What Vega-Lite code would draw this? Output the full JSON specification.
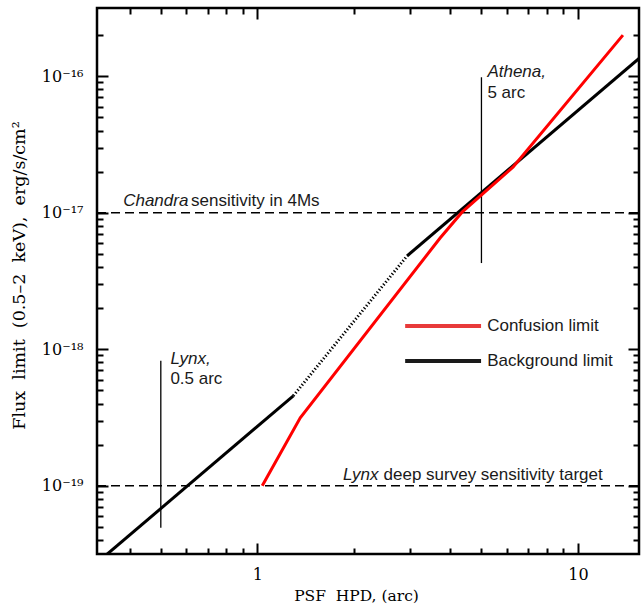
{
  "$schema": "https://vega.github.io/schema/vega-lite/v6.json",
  "width": 542,
  "height": 546,
  "autosize": {"type": "none"},
  "padding": {"left": 97, "top": 8, "right": 2, "bottom": 54},
  "background": "white",
  "config": {
    "view": {"stroke": "black", "strokeWidth": 2.5},
    "axis": {
      "grid": false,
      "domain": false,
      "tickColor": "black",
      "tickWidth": 2,
      "labelColor": "black",
      "labelFont": "DejaVu Serif",
      "labelFontSize": 16,
      "labelOverlap": false,
      "titleColor": "black",
      "titleFont": "DejaVu Serif",
      "titleFontSize": 15.5,
      "titleFontWeight": "normal"
    }
  },
  "datasets": {
    "hlines": [
      {"x": 0.3162, "x2": 15.5, "y": 1e-17},
      {"x": 0.3162, "x2": 15.5, "y": 1e-19}
    ],
    "vlines": [
      {"x": 0.5, "y": 4.93e-20, "y2": 8.22e-19},
      {"x": 5, "y": 4.28e-18, "y2": 9.83e-17}
    ],
    "black": [
      {"seg": "a", "x": 0.34, "y": 3.15e-20},
      {"seg": "a", "x": 1.295, "y": 4.56e-19},
      {"seg": "b", "x": 2.93, "y": 4.82e-18},
      {"seg": "b", "x": 15.5, "y": 1.35e-16}
    ],
    "dotted": [
      {"x": 1.295, "y": 4.56e-19},
      {"x": 2.93, "y": 4.82e-18}
    ],
    "red": [
      {"x": 1.036, "y": 1.0e-19},
      {"x": 1.361, "y": 3.15e-19},
      {"x": 3.716, "y": 6.53e-18},
      {"x": 4.35, "y": 1.01e-17},
      {"x": 6.27, "y": 2.16e-17},
      {"x": 13.81, "y": 2.0e-16}
    ],
    "legend": [
      {"label": "Confusion limit", "x": 2.891, "x2": 4.986, "tx": 5.21, "y": 1.48e-18},
      {"label": "Background limit", "x": 2.891, "x2": 4.986, "tx": 5.21, "y": 8.2e-19}
    ],
    "italic": [
      {"x": 0.3816, "y": 1.125e-17, "text": "Chandra"},
      {"x": 1.849, "y": 1.095e-19, "text": "Lynx"},
      {"x": 0.5356, "y": 7.82e-19, "text": "Lynx,"},
      {"x": 5.218, "y": 9.88e-17, "text": "Athena,"}
    ],
    "normal": [
      {"x": 0.6216, "y": 1.125e-17, "text": "sensitivity in 4Ms"},
      {"x": 2.475, "y": 1.095e-19, "text": "deep survey sensitivity target"},
      {"x": 0.5356, "y": 5.58e-19, "text": "0.5 arc"},
      {"x": 5.218, "y": 6.9e-17, "text": "5 arc"}
    ]
  },
  "resolve": {"axis": {"x": "independent", "y": "independent"}},
  "layer": [
    {
      "data": {"name": "hlines"},
      "mark": {"type": "rule", "strokeDash": [9, 5], "strokeWidth": 1.3, "color": "black"},
      "encoding": {
        "x": {"field": "x", "type": "quantitative",
          "scale": {"type": "log", "domain": [0.3162, 15.5], "nice": false},
          "axis": {"orient": "bottom", "offset": -11, "tickSize": 11, "labelPadding": 12,
            "values": [0.4, 0.5, 0.6, 0.7, 0.8, 0.9, 1, 2, 3, 4, 5, 6, 7, 8, 9, 10],
            "tickDash": {"condition": {"test": "abs(log(datum.value)/LN10 - round(log(datum.value)/LN10)) < 0.01", "value": [30, 1]}, "value": [0, 5, 6, 30]},
            "labelExpr": "abs(log(datum.value)/LN10 - round(log(datum.value)/LN10)) < 0.01 ? (datum.value > 5 ? '10' : '1') : ''",
            "title": "PSF\u00a0 HPD, (arc)", "titleX": 259, "titleY": 57, "titleAlign": "center", "titleBaseline": "alphabetic"}},
        "x2": {"field": "x2"},
        "y": {"field": "y", "type": "quantitative",
          "scale": {"type": "log", "domain": [3.162e-20, 3.162e-16], "nice": false},
          "axis": {"orient": "left", "offset": -11, "tickSize": 11, "labelPadding": 14,
            "values": [4e-20, 5e-20, 6e-20, 7e-20, 8e-20, 9e-20, 1e-19, 2e-19, 3e-19, 4e-19, 5e-19, 6e-19, 7e-19, 8e-19, 9e-19, 1e-18, 2e-18, 3e-18, 4e-18, 5e-18, 6e-18, 7e-18, 8e-18, 9e-18, 1e-17, 2e-17, 3e-17, 4e-17, 5e-17, 6e-17, 7e-17, 8e-17, 9e-17, 1e-16, 2e-16],
            "tickDash": {"condition": {"test": "abs(log(datum.value)/LN10 - round(log(datum.value)/LN10)) < 0.01", "value": [30, 1]}, "value": [0, 5, 6, 30]},
            "labelExpr": "abs(log(datum.value)/LN10 - round(log(datum.value)/LN10)) < 0.01 ? (datum.value < 5e-19 ? '10⁻¹⁹' : datum.value < 5e-18 ? '10⁻¹⁸' : datum.value < 5e-17 ? '10⁻¹⁷' : '10⁻¹⁶') : ''",
            "title": "Flux\u00a0 limit\u00a0 (0.5–2\u00a0 keV),\u00a0 erg/s/cm²", "titleX": -89, "titleY": 267, "titleAngle": -90,
            "titleFontSize": 17.5, "titleAlign": "center", "titleBaseline": "middle"}}
      }
    },
    {
      "data": {"name": "vlines"},
      "mark": {"type": "rule", "strokeWidth": 1.3, "color": "black"},
      "encoding": {
        "x": {"field": "x", "type": "quantitative", "scale": {"type": "log", "domain": [0.3162, 15.5], "nice": false}, "axis": null},
        "y": {"field": "y", "type": "quantitative", "scale": {"type": "log", "domain": [3.162e-20, 3.162e-16], "nice": false}, "axis": null},
        "y2": {"field": "y2"}
      }
    },
    {
      "data": {"name": "black"},
      "mark": {"type": "line", "strokeWidth": 3, "color": "black", "clip": true},
      "encoding": {
        "x": {"field": "x", "type": "quantitative", "scale": {"type": "log", "domain": [0.3162, 15.5], "nice": false}, "axis": null},
        "y": {"field": "y", "type": "quantitative", "scale": {"type": "log", "domain": [3.162e-20, 3.162e-16], "nice": false}, "axis": null},
        "detail": {"field": "seg"}
      }
    },
    {
      "data": {"name": "red"},
      "mark": {"type": "line", "strokeWidth": 3, "color": "#ff0000", "clip": true},
      "encoding": {
        "x": {"field": "x", "type": "quantitative",
          "scale": {"type": "log", "domain": [0.3162, 15.5], "nice": false},
          "axis": {"orient": "top", "offset": -11, "tickSize": 11, "labels": false, "title": null,
            "values": [0.4, 0.5, 0.6, 0.7, 0.8, 0.9, 1, 2, 3, 4, 5, 6, 7, 8, 9, 10],
            "tickDash": {"condition": {"test": "abs(log(datum.value)/LN10 - round(log(datum.value)/LN10)) < 0.01", "value": [30, 1]}, "value": [0, 5, 6, 30]}}},
        "y": {"field": "y", "type": "quantitative",
          "scale": {"type": "log", "domain": [3.162e-20, 3.162e-16], "nice": false},
          "axis": {"orient": "right", "offset": -11, "tickSize": 11, "labels": false, "title": null,
            "values": [4e-20, 5e-20, 6e-20, 7e-20, 8e-20, 9e-20, 1e-19, 2e-19, 3e-19, 4e-19, 5e-19, 6e-19, 7e-19, 8e-19, 9e-19, 1e-18, 2e-18, 3e-18, 4e-18, 5e-18, 6e-18, 7e-18, 8e-18, 9e-18, 1e-17, 2e-17, 3e-17, 4e-17, 5e-17, 6e-17, 7e-17, 8e-17, 9e-17, 1e-16, 2e-16],
            "tickDash": {"condition": {"test": "abs(log(datum.value)/LN10 - round(log(datum.value)/LN10)) < 0.01", "value": [30, 1]}, "value": [0, 5, 6, 30]}}}
      }
    },
    {
      "data": {"name": "dotted"},
      "mark": {"type": "line", "strokeWidth": 3, "color": "black", "strokeDash": [1.3, 2.1], "clip": true},
      "encoding": {
        "x": {"field": "x", "type": "quantitative", "scale": {"type": "log", "domain": [0.3162, 15.5], "nice": false}, "axis": null},
        "y": {"field": "y", "type": "quantitative", "scale": {"type": "log", "domain": [3.162e-20, 3.162e-16], "nice": false}, "axis": null}
      }
    },
    {
      "data": {"name": "legend"},
      "mark": {"type": "rule", "strokeWidth": 4},
      "encoding": {
        "x": {"field": "x", "type": "quantitative", "scale": {"type": "log", "domain": [0.3162, 15.5], "nice": false}, "axis": null},
        "x2": {"field": "x2"},
        "y": {"field": "y", "type": "quantitative", "scale": {"type": "log", "domain": [3.162e-20, 3.162e-16], "nice": false}, "axis": null},
        "color": {"field": "label", "type": "nominal",
          "scale": {"domain": ["Confusion limit", "Background limit"], "range": ["#e83a3a", "#1a1a1a"]}, "legend": null}
      }
    },
    {
      "data": {"name": "legend"},
      "mark": {"type": "text", "font": "Liberation Sans", "fontSize": 17, "align": "left", "baseline": "middle", "color": "#1a1a1a"},
      "encoding": {
        "x": {"field": "tx", "type": "quantitative", "scale": {"type": "log", "domain": [0.3162, 15.5], "nice": false}, "axis": null},
        "y": {"field": "y", "type": "quantitative", "scale": {"type": "log", "domain": [3.162e-20, 3.162e-16], "nice": false}, "axis": null},
        "text": {"field": "label"}
      }
    },
    {
      "data": {"name": "italic"},
      "mark": {"type": "text", "font": "Liberation Sans", "fontSize": 17, "fontStyle": "italic", "align": "left", "baseline": "alphabetic", "color": "#1a1a1a"},
      "encoding": {
        "x": {"field": "x", "type": "quantitative", "scale": {"type": "log", "domain": [0.3162, 15.5], "nice": false}, "axis": null},
        "y": {"field": "y", "type": "quantitative", "scale": {"type": "log", "domain": [3.162e-20, 3.162e-16], "nice": false}, "axis": null},
        "text": {"field": "text"}
      }
    },
    {
      "data": {"name": "normal"},
      "mark": {"type": "text", "font": "Liberation Sans", "fontSize": 17, "align": "left", "baseline": "alphabetic", "color": "#1a1a1a"},
      "encoding": {
        "x": {"field": "x", "type": "quantitative", "scale": {"type": "log", "domain": [0.3162, 15.5], "nice": false}, "axis": null},
        "y": {"field": "y", "type": "quantitative", "scale": {"type": "log", "domain": [3.162e-20, 3.162e-16], "nice": false}, "axis": null},
        "text": {"field": "text"}
      }
    }
  ]
}
